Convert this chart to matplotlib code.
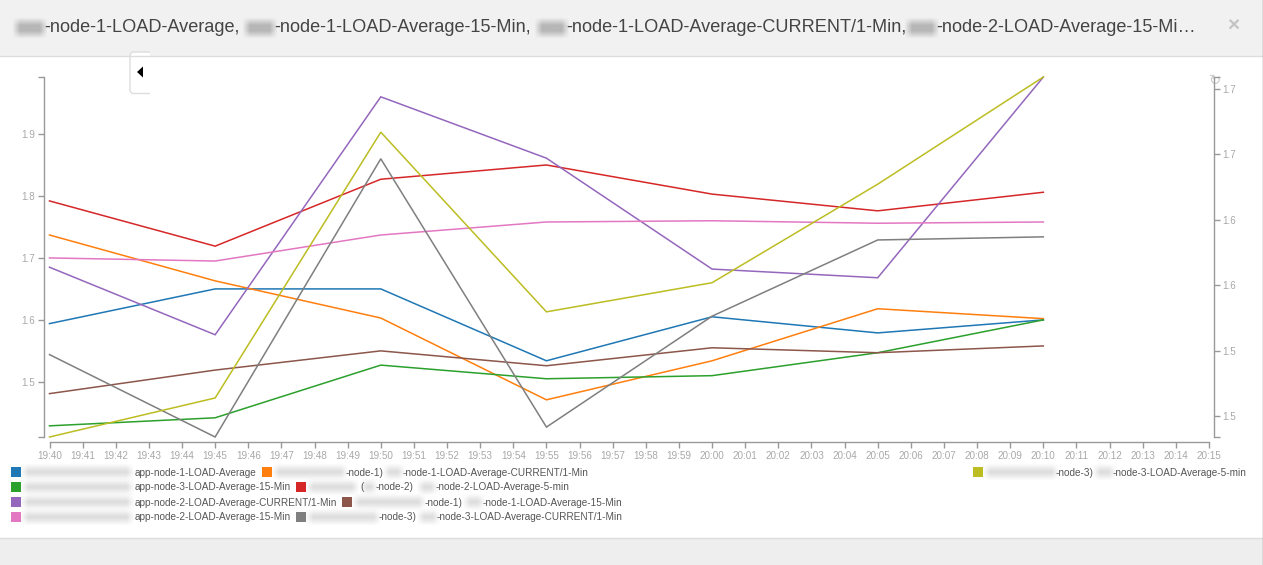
import numpy as np
import matplotlib
matplotlib.use("Agg")
import matplotlib.pyplot as plt
from matplotlib.patches import Rectangle, FancyBboxPatch, Polygon

plt.rcParams['font.family'] = ['Liberation Sans', 'DejaVu Sans']

W, H = 1263, 565

# minutes after 19:40
minutes = [0, 5, 10, 15, 20, 25, 30]
tick_labels = ["19:40", "19:41", "19:42", "19:43", "19:44", "19:45", "19:46", "19:47", "19:48",
               "19:49", "19:50", "19:51", "19:52", "19:53", "19:54", "19:55", "19:56", "19:57",
               "19:58", "19:59", "20:00", "20:01", "20:02", "20:03", "20:04", "20:05", "20:06",
               "20:07", "20:08", "20:09", "20:10", "20:11", "20:12", "20:13", "20:14", "20:15"]

node1_avg = [1.594, 1.650, 1.650, 1.534, 1.605, 1.579, 1.600]
node1_cur = [1.737, 1.663, 1.603, 1.471, 1.534, 1.618, 1.602]
node3_15 = [1.429, 1.442, 1.527, 1.505, 1.510, 1.547, 1.600]
node2_5 = [1.792, 1.719, 1.827, 1.850, 1.803, 1.776, 1.806]
node2_cur = [1.685, 1.576, 1.960, 1.861, 1.682, 1.668, 1.992]
node1_15 = [1.481, 1.519, 1.550, 1.526, 1.555, 1.547, 1.558]
node2_15 = [1.700, 1.695, 1.737, 1.758, 1.760, 1.756, 1.758]
node3_cur = [1.544, 1.411, 1.860, 1.427, 1.606, 1.729, 1.734]
node3_5 = [1.411, 1.474, 1.903, 1.613, 1.660, 1.819, 1.992]

series = [node1_avg, node1_cur, node3_15, node2_5, node2_cur, node1_15, node2_15, node3_cur, node3_5]
colors = ["#1f77b4", "#ff7f0e", "#2ca02c", "#d62728", "#9467bd", "#8c564b", "#e377c2", "#7f7f7f", "#bcbd22"]

left_ticks = [1.5, 1.6, 1.7, 1.8, 1.9]
right_ticks = [1.45, 1.50, 1.55, 1.60, 1.65, 1.70]
right_labels = ["1.5", "1.5", "1.6", "1.6", "1.7", "1.7"]

AXIS = "#999999"
LABEL = "#a8a8a8"

fig = plt.figure(figsize=(W / 100, H / 100), dpi=100, facecolor="white")

# page furniture, in pixel coordinates
bg = fig.add_axes([0, 0, 1, 1], zorder=0)
bg.set_xlim(0, W)
bg.set_ylim(H, 0)
bg.axis("off")


def blur(x0, x1, y0, y1, shade=0.72, strength=0.8):
    # soft grey block standing in for the masked text
    pad = 4
    ys = np.arange(y0 - pad, y1 + pad + 1)
    xs = np.arange(x0 - pad, x1 + pad + 1)
    ax_y = np.clip(np.minimum(ys - ys[0], ys[-1] - ys) / (2.0 * pad), 0, 1)
    ax_x = np.clip(np.minimum(xs - xs[0], xs[-1] - xs) / (2.0 * pad), 0, 1)
    img = np.ones((len(ys), len(xs), 4)) * shade
    img[..., 3] = np.outer(ax_y, ax_x) * strength
    bg.imshow(img, extent=(xs[0], xs[-1], ys[-1], ys[0]), aspect="auto", interpolation="bilinear", zorder=2)


bg.add_patch(Rectangle((0, 0), W, 56, fc="#f1f1f1", ec="none"))
bg.plot([0, W], [56, 56], color="#dddddd", lw=1)
bg.add_patch(Rectangle((0, 538), W, 27, fc="#eeeeee", ec="none"))
bg.plot([0, W], [537.5, 537.5], color="#dddddd", lw=1)
bg.plot([W - 0.5, W - 0.5], [0, H], color="#888888", lw=1)

title_parts = [(16, 44, "-node-1-LOAD-Average,"), (246, 274, "-node-1-LOAD-Average-15-Min,"),
               (538, 566, "-node-1-LOAD-Average-CURRENT/1-Min,"), (908, 936, "-node-2-LOAD-Average-15-Mi…")]
for x0, x1, s in title_parts:
    blur(x0, x1, 21, 35, 0.66)
    bg.text(x1, 27, s, fontsize=13.1, color="#444444", va="center", ha="left")

bg.text(1233, 26.5, "×", fontsize=15, fontweight="bold", color="#c4c4c4", ha="center", va="center")
bg.text(1215.5, 80, "↻", fontsize=10.5, color="#cccccc", ha="center", va="center", family=["DejaVu Sans"], zorder=5)

button = FancyBboxPatch((130, 52), 40, 41.5, boxstyle="round,pad=0,rounding_size=4",
                        fc="white", ec="#dddddd", lw=1)
bg.add_patch(button)
button.set_clip_path(Rectangle((128, 50), 22, 46, transform=bg.transData))
bg.add_patch(Polygon([[137, 72], [143, 66.5], [143, 77.5]], fc="black", ec="none"))

# legend rows: swatch colour index, swatch x, row y, masked spans, visible text
legend_rows = [
    (0, 11, 472, [(24, 131)], [(135, "app-node-1-LOAD-Average")]),
    (1, 262, 472, [(275, 345), (386, 402)], [(346, "-node-1)"), (403, "-node-1-LOAD-Average-CURRENT/1-Min")]),
    (2, 11, 487, [(24, 131)], [(135, "app-node-3-LOAD-Average-15-Min")]),
    (3, 296, 487, [(309, 356), (363, 375), (420, 435)],
     [(360, "("), (376, "-node-2)"), (436, "-node-2-LOAD-Average-5-min")]),
    (4, 11, 502, [(24, 131)], [(135, "app-node-2-LOAD-Average-CURRENT/1-Min")]),
    (5, 342, 502, [(355, 423), (466, 482)], [(425, "-node-1)"), (483, "-node-1-LOAD-Average-15-Min")]),
    (6, 11, 517, [(24, 131)], [(135, "app-node-2-LOAD-Average-15-Min")]),
    (7, 296, 517, [(309, 378), (420, 437)], [(379, "-node-3)"), (437, "-node-3-LOAD-Average-CURRENT/1-Min")]),
    (8, 973, 472, [(986, 1056), (1096, 1113)], [(1056, "-node-3)"), (1113, "-node-3-LOAD-Average-5-min")]),
]
for idx, sx, sy, spans, texts in legend_rows:
    bg.add_patch(Rectangle((sx, sy - 5), 10, 10, fc=colors[idx], ec="none"))
    for a, b in spans:
        blur(a, b, sy - 5, sy + 5, 0.82, 0.7)
    for tx, s in texts:
        bg.text(tx, sy + 0.5, s, fontsize=7.2, color="#555555", va="center", ha="left")

bg.set_xlim(0, W)
bg.set_ylim(H, 0)

# chart area: 19:40..20:15 over x 49.5..1209, data range over y 77..437
ax = fig.add_axes([49.5 / W, 1 - 437 / H, (1209 - 49.5) / W, 360 / H], zorder=1)
ax.patch.set_alpha(0)
ax.set_xlim(0, 35)
ax.set_ylim(1.411, 1.992)

for vals, c in zip(series, colors):
    ax.plot(minutes, vals, color=c, lw=1.1, solid_joinstyle="miter", clip_on=False)

for side in ["top", "right"]:
    ax.spines[side].set_visible(False)
for side, off in [("left", 4), ("bottom", 3.6)]:
    ax.spines[side].set_position(("outward", off))
    ax.spines[side].set_color(AXIS)
    ax.spines[side].set_linewidth(1)

ax.set_xticks(range(36))
ax.set_xticklabels(tick_labels)
ax.tick_params(axis="x", length=4, width=1, color=AXIS, labelcolor=LABEL, labelsize=7.1, pad=2.2)
ax.set_yticks(left_ticks)
ax.set_yticklabels([str(v) for v in left_ticks])
ax.set_yticks([1.411, 1.992], minor=True)
ax.tick_params(axis="y", which="both", length=4.3, width=1, color=AXIS, labelcolor=LABEL, labelsize=7.1, pad=2)

ax2 = ax.twinx()
ax2.patch.set_alpha(0)
ax2.set_ylim(1.434, 1.709)
for side in ["top", "left", "bottom"]:
    ax2.spines[side].set_visible(False)
ax2.spines["right"].set_position(("outward", 3.6))
ax2.spines["right"].set_color(AXIS)
ax2.spines["right"].set_linewidth(1)
ax2.set_yticks(right_ticks)
ax2.set_yticklabels(right_labels)
ax2.set_yticks([1.434, 1.709], minor=True)
ax2.tick_params(axis="y", which="both", length=4.3, width=1, color=AXIS, labelcolor=LABEL, labelsize=7.1, pad=2)

fig.savefig("out.png", dpi=100)
